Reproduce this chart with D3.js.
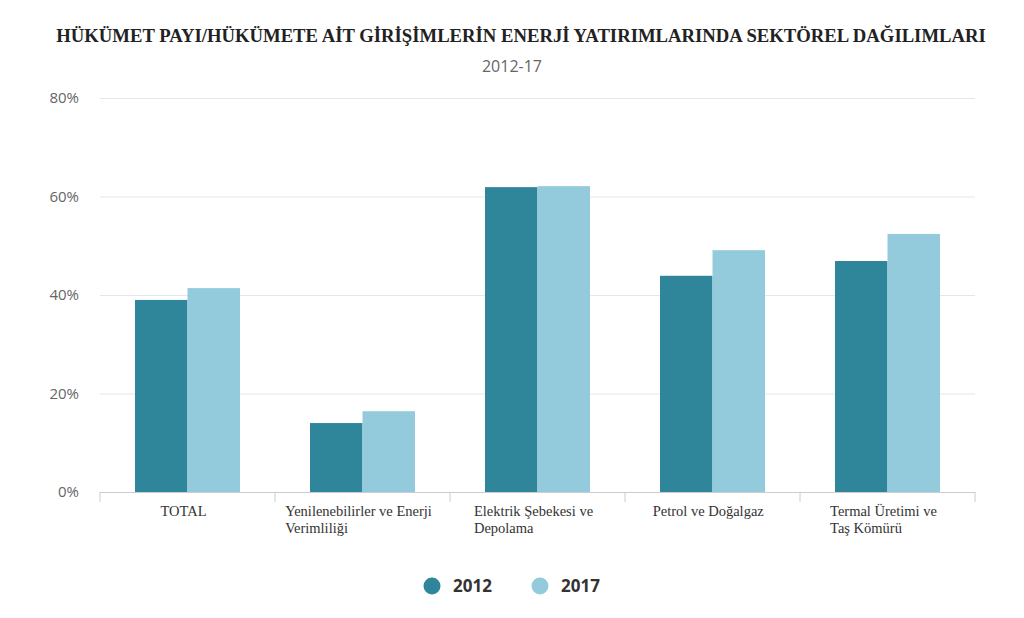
<!DOCTYPE html>
<html><head><meta charset="utf-8">
<script src="https://cdn.jsdelivr.net/npm/d3@7"></script>
<style>body{margin:0;background:#fff}</style>
</head><body><svg id="c" width="1024" height="618"></svg>
<script>
const categories = [["TOTAL"],["Yenilenebilirler ve Enerji","Verimliliği"],["Elektrik Şebekesi ve","Depolama"],["Petrol ve Doğalgaz"],["Termal Üretimi ve","Taş Kömürü"]];
const categoryKeys = ["TOTAL","Yenilenebilirler ve Enerji Verimliliği","Elektrik Şebekesi ve Depolama","Petrol ve Doğalgaz","Termal Üretimi ve Taş Kömürü"];
const seriesNames = ["2012","2017"];
const values2012 = [39.0, 14.0, 61.9, 43.9, 46.9];
const values2017 = [41.4, 16.4, 62.1, 49.1, 52.4];
const yTicks = [0,20,40,60,80];
const colors = ["#2f8599","#93cbdc"];

const svg = d3.select("#c");
const L=100,R=975,T=98,B=492;
const x = d3.scaleBand().domain(categoryKeys).range([L,R]).paddingInner(0).paddingOuter(0);
const xs = d3.scaleBand().domain(seriesNames).range([0,x.bandwidth()]).paddingInner(0).paddingOuter(2/3);
const y = d3.scaleLinear().domain([0,80]).range([B,T]);

svg.append("text").attr("x",521).attr("y",42).attr("text-anchor","middle")
  .attr("font-family","Liberation Serif").attr("font-size",18.7).attr("font-weight","bold").attr("fill","#222")
  .text("HÜKÜMET PAYI/HÜKÜMETE AİT GİRİŞİMLERİN ENERJİ YATIRIMLARINDA SEKTÖREL DAĞILIMLARI");
svg.append("text").attr("x",512).attr("y",72).attr("text-anchor","middle")
  .attr("font-family","Open Sans").attr("font-size",16).attr("fill","#666").text("2012-17");

// grid
const ya = d3.axisLeft(y).tickValues(yTicks).tickSize(-(R-L)).tickFormat(d=>d+"%");
const gy = svg.append("g").attr("transform",`translate(${L},0)`).call(ya);
gy.select(".domain").remove();
gy.selectAll(".tick line").attr("stroke","#e6e6e6");
gy.selectAll(".tick text").attr("x",-21).attr("font-family","Open Sans").attr("font-size",15).attr("fill","#666");

// bars
const data = categoryKeys.map((k,i)=>({k, v:[values2012[i],values2017[i]]}));
svg.append("g").selectAll("g").data(data).join("g").attr("transform",d=>`translate(${x(d.k)},0)`)
  .selectAll("rect").data(d=>d.v.map((v,j)=>({s:seriesNames[j],v,j}))).join("rect")
  .attr("x",d=>xs(d.s)).attr("width",xs.bandwidth()).attr("y",d=>y(d.v)).attr("height",d=>B-y(d.v))
  .attr("fill",d=>colors[d.j]);

// x axis
const xa = d3.axisBottom(x).tickSize(0).tickFormat("");
const gx = svg.append("g").attr("transform",`translate(0,${B})`).call(xa);
gx.select(".domain").attr("stroke","#ccc");
const bounds = categoryKeys.map(k=>x(k)).concat([R]);
gx.selectAll(".bt").data(bounds).join("line").attr("x1",d=>d).attr("x2",d=>d).attr("y1",0).attr("y2",10).attr("stroke","#ccc");

// category labels
const lab = svg.append("g");
categoryKeys.forEach((k,i)=>{
  const lines = categories[i];
  const t = lab.append("text").attr("font-family","Liberation Serif").attr("font-size",14.5).attr("fill","#333");
  lines.forEach((ln,j)=>t.append("tspan").attr("x",0).attr("y",B+24+j*17).text(ln));
  const w = t.node().getBBox().width;
  const cx = x(k)+x.bandwidth()/2 - 4;
  t.selectAll("tspan").attr("x",cx - w/2);
});

// legend
const leg = svg.append("g");
const lx=[432,540];
seriesNames.forEach((s,i)=>{
  leg.append("circle").attr("cx",lx[i]).attr("cy",586).attr("r",8.5).attr("fill",colors[i]);
  leg.append("text").attr("x",lx[i]+21).attr("y",592).attr("font-family","Open Sans").attr("font-weight","bold")
   .attr("font-size",17).attr("fill","#333").text(s);
});
</script></body></html>
